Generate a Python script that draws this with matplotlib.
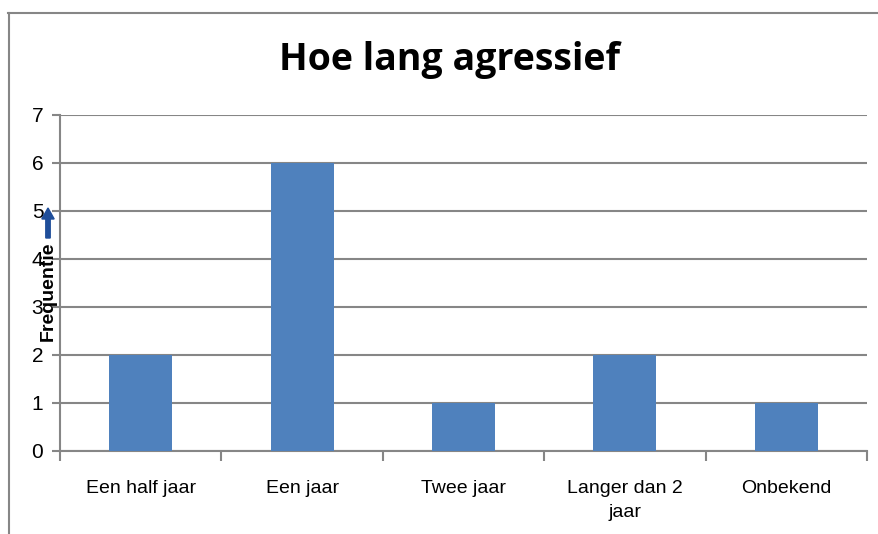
import matplotlib.pyplot as plt
from matplotlib.lines import Line2D
from matplotlib.patches import FancyArrow

categories = ['Een half jaar', 'Een jaar', 'Twee jaar', 'Langer dan 2\njaar', 'Onbekend']
values = [2, 6, 1, 2, 1]
y_ticks = [0, 1, 2, 3, 4, 5, 6, 7]

plt.rcParams['font.family'] = ['Liberation Sans', 'DejaVu Sans']

grey = '#868686'
fig = plt.figure(figsize=(8.79, 5.34), dpi=100)
ax = fig.add_axes([60 / 879, 1 - 451 / 534, 807 / 879, 336 / 534])

x = list(range(len(categories)))
ax.bar(x, values, width=0.39, color='#4F81BD', zorder=3)

ax.set_xlim(-0.5, len(categories) - 0.5)
ax.set_ylim(0, 7)
ax.set_yticks(y_ticks)
ax.set_yticklabels([str(t) for t in y_ticks], fontsize=15)
ax.yaxis.grid(True, color=grey, linewidth=1.5, zorder=0)
ax.tick_params(axis='y', length=6, width=1.5, color=grey, pad=6)

# category labels sit between the boundary ticks
ax.set_xticks([i - 0.5 for i in range(len(categories) + 1)])
ax.set_xticklabels([])
ax.set_xticks(x, minor=True)
ax.set_xticklabels(categories, minor=True, fontsize=14, linespacing=1.5)
ax.tick_params(axis='x', which='major', length=7, width=1.5, color=grey)
ax.tick_params(axis='x', which='minor', length=0, pad=21)

for side in ['top', 'right']:
    ax.spines[side].set_visible(False)
for side in ['left', 'bottom']:
    ax.spines[side].set_color(grey)
    ax.spines[side].set_linewidth(1.5)

fig.text(450 / 879, 1 - 60 / 534, 'Hoe lang agressief', ha='center', va='center',
         fontsize=27, fontweight='bold', family=['Open Sans', 'DejaVu Sans'])

# y-axis label with arrow, as in the original
fig.text(48 / 879, 1 - 291 / 534, 'Frequentie', rotation=90, ha='center', va='center',
         fontsize=14, fontweight='heavy', family=['Liberation Sans', 'DejaVu Sans'])
fig.patches.append(FancyArrow(
    48 / 879, 1 - 238 / 534, 0, 30 / 534, width=0.005, head_width=0.014,
    head_length=11 / 534, length_includes_head=True, color='#1F4E9A',
    transform=fig.transFigure, figure=fig))

# outer chart border
fig.add_artist(Line2D([8.5 / 879, 8.5 / 879], [0, 1 - 13 / 534], color=grey, linewidth=1.5))
fig.add_artist(Line2D([8 / 879, 1], [1 - 13 / 534, 1 - 13 / 534], color=grey, linewidth=1.5))

fig.savefig('out.png', dpi=100)
